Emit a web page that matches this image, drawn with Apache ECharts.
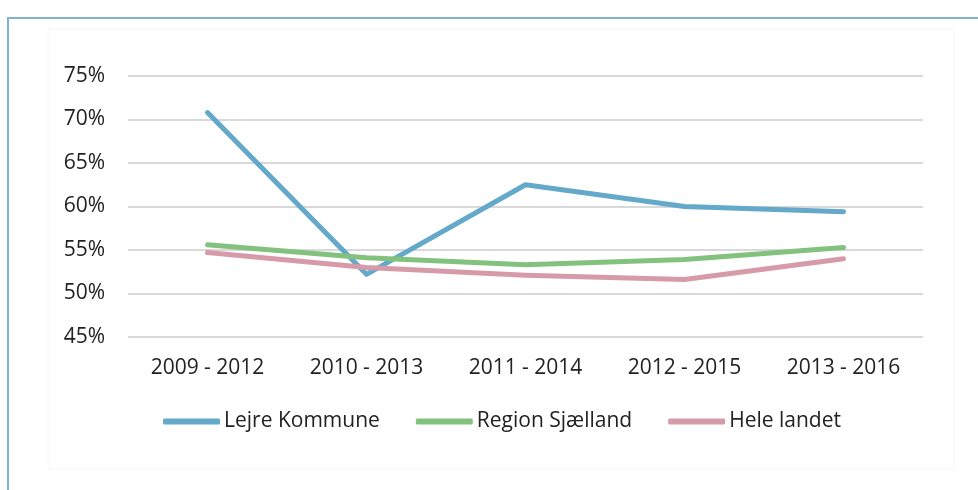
<!DOCTYPE html>
<html>
<head>
<meta charset="utf-8">
<script src="https://cdn.jsdelivr.net/npm/echarts@6/dist/echarts.min.js"></script>
<style>
  html, body { margin: 0; padding: 0; background: #fff; }
  #chart { width: 978px; height: 490px; }
</style>
</head>
<body>
<div id="chart"></div>
<script>
const categories = ["2009 - 2012", "2010 - 2013", "2011 - 2014", "2012 - 2015", "2013 - 2016"]
const lejre = [70.8, 52.2, 62.5, 60.0, 59.4]
const regionSjaelland = [55.6, 54.1, 53.3, 53.9, 55.3]
const heleLandet = [54.7, 53.0, 52.1, 51.6, 54.0]

const font = "'Open Sans', sans-serif"
const textColor = "#222"
const chart = echarts.init(document.getElementById("chart"))

const makeLine = (name, data, color) => ({
  name,
  type: "line",
  data,
  symbol: "none",
  lineStyle: { width: 5, color, cap: "round", join: "round" },
  itemStyle: { color },
})

chart.setOption({
  animation: false,
  textStyle: { fontFamily: font },
  graphic: [
    {
      type: "rect",
      shape: { x: 8, y: 18, width: 1000, height: 520 },
      style: { fill: "none", stroke: "#7db4d3", lineWidth: 2 },
    },
    {
      type: "rect",
      shape: { x: 48, y: 29, width: 906, height: 440 },
      style: { fill: "none", stroke: "#f6f6f6", lineWidth: 1 },
    },
  ],
  grid: { left: 128, right: 55, top: 76, bottom: 153 },
  legend: {
    data: ["Lejre Kommune", "Region Sjælland", "Hele landet"],
    left: 158,
    top: 406,
    icon: "roundRect",
    itemWidth: 57,
    itemHeight: 6,
    itemGap: 36,
    textStyle: { fontFamily: font, fontSize: 21, color: textColor, padding: [0, 0, 0, -1] },
  },
  xAxis: {
    type: "category",
    data: categories,
    axisLine: { show: false },
    axisTick: { show: false },
    axisLabel: { fontFamily: font, fontSize: 21, color: textColor, margin: 21 },
  },
  yAxis: {
    type: "value",
    min: 45,
    max: 75,
    interval: 5,
    axisLabel: { formatter: "{value}%", fontFamily: font, fontSize: 21, color: textColor, margin: 23 },
    splitLine: { lineStyle: { color: "#d9d9d9", width: 2 } },
  },
  series: [
    makeLine("Lejre Kommune", lejre, "#64a8ca"),
    makeLine("Region Sjælland", regionSjaelland, "#82c27e"),
    makeLine("Hele landet", heleLandet, "#d79aa8"),
  ],
})

window.addEventListener("resize", () => chart.resize())
</script>
</body>
</html>
